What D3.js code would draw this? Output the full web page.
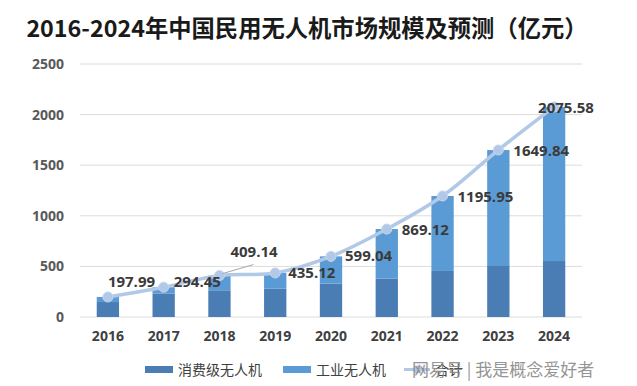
<!DOCTYPE html>
<html><head><meta charset="utf-8">
<script src="https://cdn.jsdelivr.net/npm/d3@7"></script>
<style>
html,body{margin:0;padding:0;background:#fff;}
svg{display:block;font-family:"Noto Sans CJK SC","Open Sans",sans-serif;}
</style></head>
<body><svg id="c" width="637" height="386"></svg>
<script>
const years = ["2016","2017","2018","2019","2020","2021","2022","2023","2024"];
const consumer = [148, 230, 264, 280, 330, 379, 455, 504, 553];
const totals = [197.99, 294.45, 409.14, 435.12, 599.04, 869.12, 1195.95, 1649.84, 2075.58];
const industrial = totals.map((t, i) => +(t - consumer[i]).toFixed(2));
const yTicks = [0, 500, 1000, 1500, 2000, 2500];
const seriesNames = ["消费级无人机", "工业无人机", "合计"];
const title = "2016-2024年中国民用无人机市场规模及预测（亿元）";
const watermark = "网易号 | 我是概念爱好者";

// label offsets (dx, dy) relative to each point
const labelOffsets = [[0,-10],[10,0],[11,-19],[13,5],[14,5],[15,6],[15,6],[15,6],[-16,6]];

const svg = d3.select("#c");
const colDark = "#4a7db3", colLight = "#5b9bd5", colLine = "#b1c8e6";

svg.append("text").attr("x", 307).attr("y", 37).attr("text-anchor","middle")
  .attr("font-size", 23.3).attr("font-weight","bold").attr("fill","#1a1a1a").text(title);

const x = d3.scaleBand().domain(years).range([80, 582]).paddingInner(0.6).paddingOuter(0.3);
const y = d3.scaleLinear().domain([0, 2500]).range([317, 64]);

// gridlines
svg.append("g").selectAll("line").data(yTicks).join("line")
  .attr("x1", 80).attr("x2", 582).attr("y1", d => y(d)).attr("y2", d => y(d))
  .attr("stroke", "#dcdcdc").attr("stroke-width", 1);

const yAxis = svg.append("g").attr("transform","translate(80,0)")
  .call(d3.axisLeft(y).tickValues(yTicks).tickFormat(d3.format("d")).tickSize(0).tickPadding(16));
yAxis.select(".domain").remove();
yAxis.selectAll("text").attr("font-size", 14).attr("font-weight","bold").attr("fill","#595959")
  .attr("font-family","'Open Sans',sans-serif");

const xAxis = svg.append("g").attr("transform","translate(0,317)")
  .call(d3.axisBottom(x).tickSize(0).tickPadding(14));
xAxis.select(".domain").remove();
xAxis.selectAll("text").attr("font-size", 14).attr("font-weight","bold").attr("fill","#404040")
  .attr("font-family","'Open Sans',sans-serif");

// bars
const bw = x.bandwidth();
svg.append("g").selectAll("rect").data(years).join("rect")
  .attr("x", d => x(d)).attr("width", bw)
  .attr("y", (d,i) => y(consumer[i])).attr("height", (d,i) => y(0) - y(consumer[i]))
  .attr("fill", colDark);
svg.append("g").selectAll("rect").data(years).join("rect")
  .attr("x", d => x(d)).attr("width", bw)
  .attr("y", (d,i) => y(consumer[i] + industrial[i])).attr("height", (d,i) => y(consumer[i]) - y(consumer[i] + industrial[i]))
  .attr("fill", colLight);

// line
const pts = years.map((d,i) => [x(d) + bw/2, y(totals[i])]);
svg.append("path").attr("d", d3.line().curve(d3.curveCatmullRom.alpha(0.5))(pts))
  .attr("fill","none").attr("stroke", colLine).attr("stroke-width", 3.5);
svg.append("g").selectAll("circle").data(pts).join("circle")
  .attr("cx", d => d[0]).attr("cy", d => d[1]).attr("r", 5)
  .attr("fill", colLine).attr("stroke", "#c7d7ee").attr("stroke-width", 1);

// leader line for 2018 label
svg.append("line").attr("x1", pts[2][0] + 34).attr("y1", pts[2][1] - 11)
  .attr("x2", pts[2][0] + 3).attr("y2", pts[2][1] - 2)
  .attr("stroke", "#a6a6a6").attr("stroke-width", 1);

// labels
svg.append("g").selectAll("text").data(pts).join("text")
  .attr("x", (d,i) => d[0] + labelOffsets[i][0]).attr("y", (d,i) => d[1] + labelOffsets[i][1])
  .attr("font-size", 15).attr("font-weight","bold").attr("fill","#3a3a3a")
  .attr("font-family","'Open Sans',sans-serif")
  .text((d,i) => totals[i].toFixed(2));

// legend
const lg = svg.append("g");
lg.append("rect").attr("x", 145).attr("y", 366).attr("width", 28).attr("height", 7).attr("fill", colDark);
lg.append("text").attr("x", 178).attr("y", 375).attr("font-size", 14).attr("fill","#404040").text(seriesNames[0]);
lg.append("rect").attr("x", 283).attr("y", 366).attr("width", 28).attr("height", 7).attr("fill", colLight);
lg.append("text").attr("x", 316).attr("y", 375).attr("font-size", 14).attr("fill","#404040").text(seriesNames[1]);
lg.append("line").attr("x1", 404).attr("x2", 430).attr("y1", 369.5).attr("y2", 369.5).attr("stroke", colLine).attr("stroke-width", 3);
lg.append("circle").attr("cx", 417).attr("cy", 369.5).attr("r", 4).attr("fill", colLine);
lg.append("text").attr("x", 435).attr("y", 375).attr("font-size", 14).attr("fill","#404040").text(seriesNames[2]);

// watermark (overlaps the legend in the reference too)
svg.append("text").attr("x", 412).attr("y", 376).attr("font-size", 17).attr("fill","#8a8a8a")
  .attr("opacity", 0.9).text(watermark);
</script></body></html>
